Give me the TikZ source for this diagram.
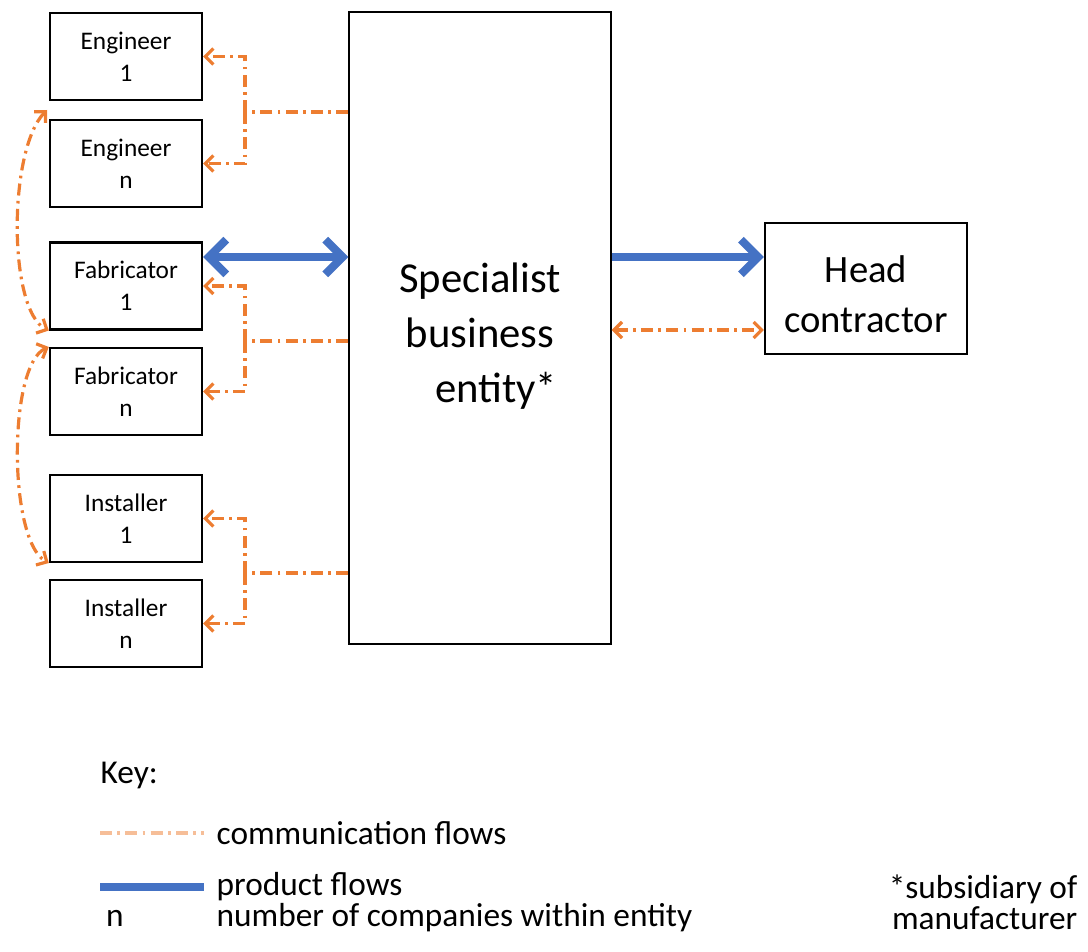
\documentclass[tikz,border=0pt]{standalone}
\usepackage{fontspec}
\setmainfont{Carlito}
\usetikzlibrary{arrows.meta}
\definecolor{prodblue}{RGB}{68,114,196}
\definecolor{commorange}{RGB}{237,125,49}

\begin{document}
\begin{tikzpicture}[
                        x=0.75pt, y=-0.75pt,
                        box/.style={rectangle, draw, line width=1.8pt, minimum width=114pt, minimum height=65pt, align=center, font=\fontsize{19}{24}\selectfont},
                        comm/.style={commorange, line width=2.4pt, dash pattern=on 9pt off 4pt on 2pt off 4pt, >={Straight Barb[length=6pt,width=12pt]}},
                        prod/.style={prodblue, line width=6pt, >={Straight Barb[length=13pt,width=26pt]}},
                        keytext/.style={anchor=west, font=\fontsize{25}{23}\selectfont}
                    ]
                    \useasboundingbox (0,0) rectangle (1088,952);
                    % Blocks
                    \node [box] (eng1) at (126,56.5) {Engineer\\1};
                    \node [box] (engn) at (126,163.5) {Engineer\\n};
                    \node [box] (fab1) at (126,286) {Fabricator\\1};
                    \node [box] (fabn) at (126,391.5) {Fabricator\\n};
                    \node [box] (inst1) at (126,518.5) {Installer\\1};
                    \node [box] (instn) at (126,623.5) {Installer\\n};
                    \node [rectangle, draw, line width=1.6pt, minimum width=196pt, minimum height=474pt] (spec) at (480,328) {};
                    \node [align=center, font=\fontsize{32}{41}\selectfont] (spectxt) at ([yshift=-6pt]spec.center) {Specialist\\business\\\hspace*{0.75em}entity*};
                    \node [rectangle, draw, line width=1.6pt, minimum width=151.5pt, minimum height=98pt] (head) at (866,288.5) {};
                    \node [align=center, font=\fontsize{29}{37.5}\selectfont] (headtxt) at ([yshift=-4.5pt]head.center) {Head\\contractor};

                    % Junctions and levels
                    \coordinate (engj) at (245,112);
                    \coordinate (fabj) at (245,341);
                    \coordinate (instj) at (245,573);
                    \coordinate (prodlvl) at (0,257);
                    \coordinate (commlvl) at (0,330);
                    \coordinate (enggap) at (47,110);

                    % Connections
                    \draw [comm] (spec.west |- engj) -- (engj);
                    \draw [comm,->] (engj) |- (eng1.east);
                    \draw [comm,->] (engj) |- (engn.east);
                    \draw [comm] (spec.west |- fabj) -- (fabj);
                    \draw [comm,->] (fabj) |- (fab1.east);
                    \draw [comm,->] (fabj) |- (fabn.east);
                    \draw [comm] (spec.west |- instj) -- (instj);
                    \draw [comm,->] (instj) |- (inst1.east);
                    \draw [comm,->] (instj) |- (instn.east);
                    \draw [prod,<->] (fab1.east |- prodlvl) -- (spec.west |- prodlvl);
                    \draw [prod,->] (spec.east |- prodlvl) -- (head.west |- prodlvl);
                    \draw [comm,<->] (spec.east |- commlvl) -- (head.west |- commlvl);
                    \draw [comm,<->] (enggap) .. controls (8,150) and (8,310) .. (fab1.south west);
                    \draw [comm,<->] (fabn.north west) .. controls (8,365) and (8,540) .. (inst1.south west);

                    % Key
                    \node [keytext] (key) at (96,775) {Key:};
                    \node [keytext] (commtxt) at (212,833) {communication flows};
                    \node [keytext] (prodtxt) at (212,887) {product flows};
                    \node [keytext] (ntxt) at (212,918) {number of companies within entity};
                    \node [font=\fontsize{25}{23}\selectfont] (nsym) at (115,918) {n};
                    \coordinate (commkey) at (100,833);
                    \coordinate (prodkey) at (100,887);
                    \draw [comm, opacity=0.5] (commkey) -- ([xshift=-6pt]commkey -| commtxt.west);
                    \draw [prod] (prodkey) -- ([xshift=-6pt]prodkey -| prodtxt.west);
                    \node [anchor=east, align=right, font=\fontsize{25}{23}\selectfont] (subs) at (1082,902) {*subsidiary of\\manufacturer};
                \end{tikzpicture}
\end{document}
